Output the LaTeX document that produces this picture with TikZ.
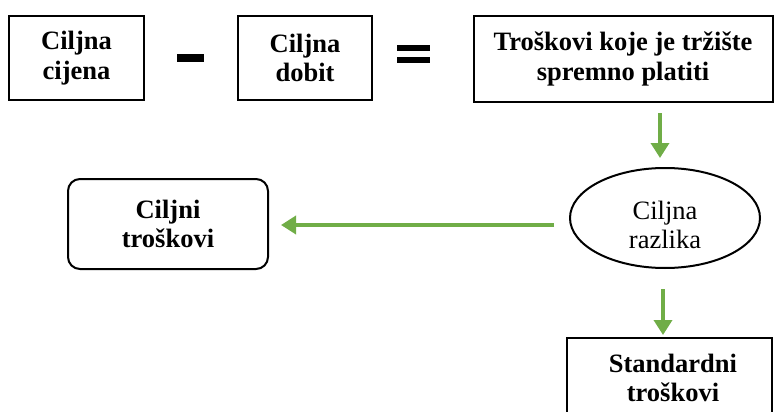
\documentclass[tikz,border=0pt]{standalone}
\usepackage{fontspec}
\setmainfont{Liberation Serif}
\usetikzlibrary{arrows.meta,shapes.geometric}
\definecolor{arrgreen}{RGB}{112,173,71}
\begin{document}
\begin{tikzpicture}[x=1pt,y=-1pt,
  box/.style={draw=black, line width=2pt, align=center, inner sep=0pt,
    font=\fontsize{26.5}{29.5}\selectfont\bfseries},
  arr/.style={draw=arrgreen, line width=3.5pt, -{Triangle[width=18pt,length=15pt]}},
  sign/.style={fill=black, draw=none, inner sep=0pt}]
\useasboundingbox (0,0) rectangle (774,412);
\node[box, minimum width=135pt, minimum height=84pt] (cc) at (76.5,58) {Ciljna\\cijena};
\node[box, minimum width=134pt, minimum height=84pt] (cd) at (305,58) {Ciljna\\dobit};
\node[box, minimum width=299pt, minimum height=86pt] (tm) at (623,59) {Troškovi koje je tržište\\spremno platiti};
\node[sign, minimum width=27pt, minimum height=8pt] (minus) at (190.5,58) {};
\node[sign, minimum width=33pt, minimum height=6pt] (eqa) at (413.5,48) {};
\node[sign, minimum width=33pt, minimum height=6pt] (eqb) at (413.5,60) {};
\node[box, rounded corners=12pt, minimum width=200pt, minimum height=90pt] (ct) at (168,224) {Ciljni\\troškovi};
\node[draw=black, line width=2pt, ellipse, minimum width=190pt, minimum height=100pt, inner sep=0pt] (cr) at (665,218) {};
\node[align=center, inner sep=0pt, font=\fontsize{26.5}{29.5}\selectfont] (crt) at (665,225) {Ciljna\\razlika};
\node[draw=black, line width=2pt, minimum width=205pt, minimum height=90pt, anchor=north, inner sep=0pt] (sb) at (669.5,337) {};
\node[align=center, inner sep=0pt, font=\fontsize{26.5}{29.5}\selectfont\bfseries] (st) at (673,378) {Standardni\\troškovi};
\draw[arr, shorten <=10pt, shorten >=9pt] ([xshift=-5pt]cr.north |- tm.south) -- ([xshift=-5pt]cr.north);
\draw[arr, shorten <=15pt, shorten >=12pt] ([yshift=-7pt]cr.west) -- ([yshift=-7pt]cr.west -| ct.east);
\draw[arr, shorten <=20pt, shorten >=2pt] ([xshift=-2pt]cr.south) -- ([xshift=-2pt]cr.south |- sb.north);
\end{tikzpicture}
\end{document}
